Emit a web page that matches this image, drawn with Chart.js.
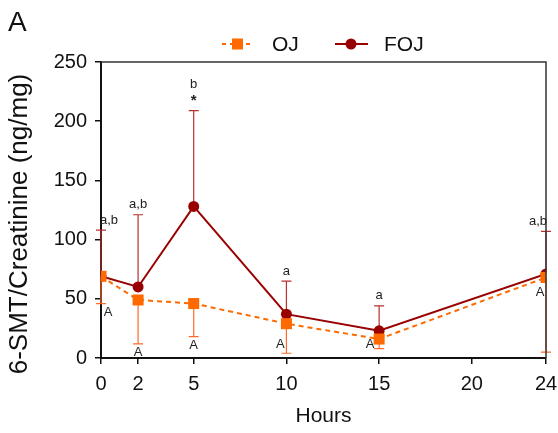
<!DOCTYPE html>
<html>
<head>
<meta charset="utf-8">
<script src="https://cdn.jsdelivr.net/npm/chart.js@4/dist/chart.umd.min.js"></script>
<style>
  html, body { margin: 0; padding: 0; background: #fff; }
  #wrap { width: 558px; height: 433px; position: relative; }
</style>
</head>
<body>
<div id="wrap"><canvas id="chart"></canvas></div>
<script>
// ---- data ----
const hours = [0, 2, 5, 10, 15, 24];
const xTicks = [0, 2, 5, 10, 15, 20, 24];

const ojMean = [69, 49, 46, 29, 16, 68];
const ojLow = [46, 12, 18, 4, 8, 5];      // lower end of error bar
const fojMean = [69, 60, 128, 37, 23, 71];
const fojHigh = [108, 121, 209, 65, 44, 107]; // upper end of error bar

const fojLetters = ['a,b', 'a,b', 'b', 'a', 'a', 'a,b'];
const fojStars = ['', '', '*', '', '', ''];
const ojLetters = ['A', 'A', 'A', 'A', 'A', 'A'];

const OJ_COLOR = '#ff6a00';
const FOJ_COLOR = '#990000';
const FONT = "'Liberation Sans', Arial, sans-serif";

const pts = (xs, ys) => xs.map((x, i) => ({ x, y: ys[i] }));

// error bars (drawn under the markers)
const errorBars = {
  id: 'errorBars',
  beforeDatasetsDraw(chart) {
    const { ctx, scales: { x, y } } = chart;
    const cap = 5;
    const bar = (xv, from, to, color) => {
      const px = x.getPixelForValue(xv);
      const y1 = y.getPixelForValue(from);
      const y2 = y.getPixelForValue(to);
      ctx.strokeStyle = color;
      ctx.lineWidth = 1.2;
      ctx.beginPath();
      ctx.moveTo(px, y1); ctx.lineTo(px, y2);
      ctx.moveTo(px - cap, y2); ctx.lineTo(px + cap, y2);
      ctx.stroke();
    };
    ctx.save();
    hours.forEach((h, i) => bar(h, fojMean[i], fojHigh[i], '#b83030'));
    hours.forEach((h, i) => bar(h, ojMean[i], ojLow[i], '#ff6a2a'));
    ctx.restore();
  }
};

// letters, frame, legend, axis title, panel tag
const extras = {
  id: 'extras',
  afterDatasetsDraw(chart) {
    const { ctx, chartArea: a, scales: { x, y } } = chart;
    ctx.save();

    // top/right frame
    ctx.strokeStyle = '#333';
    ctx.lineWidth = 1.5;
    ctx.beginPath();
    ctx.moveTo(a.left, a.top); ctx.lineTo(a.right, a.top); ctx.lineTo(a.right, a.bottom);
    ctx.stroke();

    ctx.fillStyle = '#222';
    ctx.textAlign = 'center';
    ctx.textBaseline = 'middle';
    ctx.font = `13px ${FONT}`;

    // FOJ letters above the upper caps
    const fojShift = [8, 0, 0, 0, 0, -8];
    hours.forEach((h, i) => {
      const px = x.getPixelForValue(h) + fojShift[i];
      const py = y.getPixelForValue(fojHigh[i]);
      if (fojStars[i]) {
        ctx.font = `bold 15px ${FONT}`;
        ctx.fillText(fojStars[i], px, py - 10);
        ctx.font = `13px ${FONT}`;
        ctx.fillText(fojLetters[i], px, py - 26);
      } else {
        ctx.fillText(fojLetters[i], px, py - 10);
      }
    });

    // OJ letters
    const ojDx = [7, 0, 0, -6, -9, -6];
    hours.forEach((h, i) => {
      const px = x.getPixelForValue(h) + ojDx[i];
      let py;
      if (i <= 2) py = y.getPixelForValue(ojLow[i]) + 9;
      else if (i === 5) py = y.getPixelForValue(ojMean[i]) + 15;
      else py = a.bottom - 14;
      ctx.fillText(ojLetters[i], px, py);
    });

    // legend
    const ly = 44;
    ctx.lineWidth = 2;
    ctx.strokeStyle = OJ_COLOR;
    ctx.setLineDash([4, 4]);
    ctx.beginPath(); ctx.moveTo(222, ly); ctx.lineTo(254, ly); ctx.stroke();
    ctx.setLineDash([]);
    ctx.fillStyle = OJ_COLOR;
    ctx.fillRect(232, ly - 5.5, 11, 11);
    ctx.strokeStyle = FOJ_COLOR;
    ctx.beginPath(); ctx.moveTo(335, ly); ctx.lineTo(368, ly); ctx.stroke();
    ctx.fillStyle = FOJ_COLOR;
    ctx.beginPath(); ctx.arc(351, ly, 5.5, 0, Math.PI * 2); ctx.fill();
    ctx.fillStyle = '#111';
    ctx.font = `21px ${FONT}`;
    ctx.textAlign = 'left';
    ctx.fillText('OJ', 272, ly + 1);
    ctx.fillText('FOJ', 384, ly + 1);

    // panel tag
    ctx.font = `28px ${FONT}`;
    ctx.fillText('A', 8, 23);

    // y axis title
    ctx.translate(20, 224);
    ctx.rotate(-Math.PI / 2);
    ctx.textAlign = 'center';
    ctx.font = `26px ${FONT}`;
    ctx.fillText('6-SMT/Creatinine (ng/mg)', 0, 0);
    ctx.restore();
  }
};

new Chart(document.getElementById('chart'), {
  type: 'line',
  data: {
    datasets: [
      {
        label: 'OJ',
        data: pts(hours, ojMean),
        borderColor: OJ_COLOR,
        backgroundColor: OJ_COLOR,
        borderWidth: 2,
        borderDash: [5, 4],
        pointStyle: 'rect',
        pointRadius: 7.8,
        pointBorderWidth: 0,
        tension: 0
      },
      {
        label: 'FOJ',
        data: pts(hours, fojMean),
        borderColor: FOJ_COLOR,
        backgroundColor: FOJ_COLOR,
        borderWidth: 2,
        pointStyle: 'circle',
        pointRadius: 5.5,
        pointBorderWidth: 0,
        tension: 0
      }
    ]
  },
  options: {
    responsive: true,
    maintainAspectRatio: false,
    animation: false,
    layout: { padding: { top: 62, right: 12, left: 0, bottom: 0 } },
    plugins: {
      legend: { display: false },
      title: { display: false },
      tooltip: { enabled: false }
    },
    scales: {
      x: {
        type: 'linear',
        min: 0,
        max: 24,
        afterBuildTicks: s => { s.ticks = xTicks.map(v => ({ value: v })); },
        afterFit: s => { s.height = 75; s.paddingLeft = 0; s.paddingRight = 0; },
        border: { display: true, color: '#111', width: 2 },
        grid: { display: true, drawOnChartArea: false, drawTicks: true, tickLength: 6, color: '#111', lineWidth: 1.5 },
        ticks: { color: '#111', font: { family: FONT, size: 20 }, padding: 8, autoSkip: false, maxRotation: 0 },
        title: { display: true, text: 'Hours', color: '#111', font: { family: FONT, size: 21 }, padding: { top: 0, bottom: 4 } }
      },
      y: {
        min: 0,
        max: 250,
        afterFit: s => { s.width = 101; s.paddingTop = 0; s.paddingBottom = 0; },
        border: { display: true, color: '#111', width: 2 },
        grid: { display: true, drawOnChartArea: false, drawTicks: true, tickLength: 6, color: '#111', lineWidth: 1.5 },
        ticks: { stepSize: 50, color: '#111', font: { family: FONT, size: 20 }, padding: 8 },
        title: { display: false }
      }
    }
  },
  plugins: [errorBars, extras]
});
</script>
</body>
</html>
